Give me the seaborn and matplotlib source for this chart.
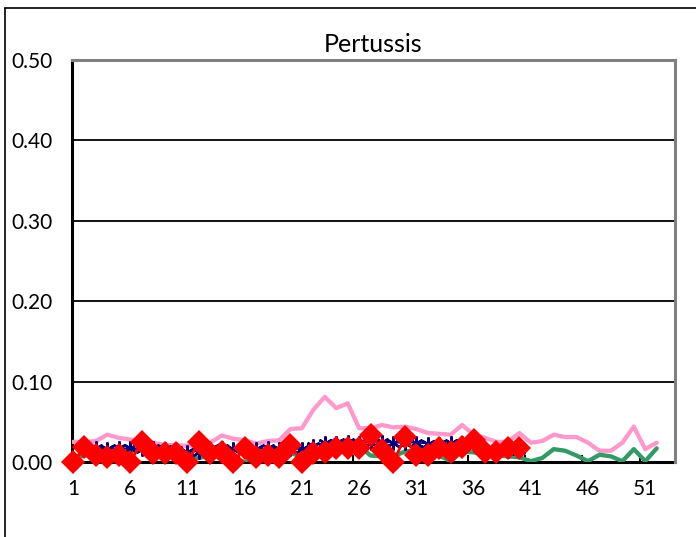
import matplotlib
matplotlib.use("Agg")
import matplotlib.pyplot as plt
from matplotlib.lines import Line2D
import seaborn as sns
import pandas as pd
import numpy as np

title = "Pertussis"
weeks_full = list(range(1, 53))
weeks_cur = list(range(1, 41))

pink_vals = [0.025, 0.025, 0.026, 0.034, 0.030, 0.028, 0.026, 0.024, 0.021, 0.021,
             0.020, 0.021, 0.024, 0.033, 0.029, 0.027, 0.023, 0.026, 0.027, 0.041,
             0.042, 0.065, 0.081, 0.067, 0.073, 0.042, 0.042, 0.046, 0.043, 0.044,
             0.041, 0.036, 0.035, 0.034, 0.046, 0.034, 0.030, 0.025, 0.025, 0.036,
             0.024, 0.026, 0.034, 0.031, 0.031, 0.024, 0.014, 0.014, 0.024, 0.044,
             0.016, 0.024]
green_vals = [0.005, 0.008, 0.010, 0.008, 0.003, 0.013, 0.017, 0.010, 0.008, 0.007,
              0.006, 0.005, 0.008, 0.010, 0.005, 0.000, 0.003, 0.006, 0.008, 0.011,
              0.007, 0.011, 0.019, 0.015, 0.020, 0.020, 0.008, 0.007, 0.007, 0.013,
              0.015, 0.019, 0.008, 0.001, 0.013, 0.012, 0.010, 0.008, 0.007, 0.006,
              0.001, 0.005, 0.016, 0.014, 0.008, 0.001, 0.009, 0.007, 0.001, 0.016,
              0.001, 0.017]
navy_vals = [0.000, 0.017, 0.017, 0.016, 0.017, 0.017, 0.016, 0.017, 0.016, 0.015,
             0.013, 0.013, 0.016, 0.017, 0.016, 0.017, 0.016, 0.017, 0.016, 0.016,
             0.016, 0.020, 0.024, 0.024, 0.025, 0.024, 0.024, 0.025, 0.024, 0.024,
             0.024, 0.023, 0.022, 0.024, 0.024, 0.023, 0.015, 0.015, 0.014, 0.015]
red_vals = [0.000, 0.019, 0.009, 0.0065, 0.009, 0.000, 0.025, 0.011, 0.011, 0.011,
            0.000, 0.025, 0.011, 0.012, 0.000, 0.017, 0.0065, 0.009, 0.0065, 0.021,
            0.000, 0.011, 0.013, 0.017, 0.017, 0.017, 0.034, 0.015, 0.000, 0.031,
            0.009, 0.009, 0.017, 0.013, 0.019, 0.027, 0.013, 0.013, 0.017, 0.017]

y_ticks = [0.0, 0.1, 0.2, 0.3, 0.4, 0.5]
x_ticks = [1, 6, 11, 16, 21, 26, 31, 36, 41, 46, 51]

sns.set_theme(style="white")
plt.rcParams['font.family'] = ['Lato', 'DejaVu Sans']

fig = plt.figure(figsize=(6.96, 5.37), dpi=100)
ax = fig.add_axes([72/696, 1-462/537, (675-72)/696, (462-60)/537])

df_full = pd.DataFrame({"week": weeks_full, "pink": pink_vals, "green": green_vals})
df_cur = pd.DataFrame({"week": weeks_cur, "navy": navy_vals, "red": red_vals})

for yv in y_ticks[1:-1]:
    ax.axhline(yv, color="black", lw=1.3, zorder=1)

sns.lineplot(data=df_full, x="week", y="pink", ax=ax, color="#FF99CC", lw=3.1, zorder=3)
sns.lineplot(data=df_full, x="week", y="green", ax=ax, color="#339966", lw=3.1, zorder=4)
sns.lineplot(data=df_cur, x="week", y="navy", ax=ax, color="#000080", lw=1.2,
             marker=(6, 2, 0), markersize=10, markeredgewidth=1.8,
             markeredgecolor="#000080", zorder=5, clip_on=False)
sns.lineplot(data=df_cur, x="week", y="red", ax=ax, color="#FF0000", lw=2.0,
             marker="D", markersize=12, markeredgewidth=0, zorder=6, clip_on=False)

ax.set_xlim(0.91, 53.6)
ax.set_ylim(0, 0.5)
ax.set_yticks(y_ticks)
ax.set_yticklabels([f"{v:.2f}" for v in y_ticks])
ax.set_xticks(x_ticks)
ax.set_xticklabels([str(v) for v in x_ticks])
ax.set_xticks([5.5 + 5*k for k in range(10)], minor=True)
ax.tick_params(axis="y", length=0, pad=14, labelsize=15, labelcolor="black")
ax.tick_params(axis="x", which="major", length=0, pad=12, labelsize=15, labelcolor="black")
ax.tick_params(axis="x", which="minor", direction="in", length=5, width=1.5, color="black", bottom=True)
ax.set_xlabel("")
ax.set_ylabel("")
ax.set_title(title, fontsize=18, pad=6, color="black")

for s in ["left", "bottom"]:
    ax.spines[s].set_color("black")
    ax.spines[s].set_linewidth(2.2)
for s in ["top", "right"]:
    ax.spines[s].set_color("#808080")
    ax.spines[s].set_linewidth(2.2)
ax.spines["bottom"].set_zorder(2)

fig.add_artist(Line2D([5/696, 5/696], [0, 1-8/537], color="black", lw=1.2, transform=fig.transFigure))
fig.add_artist(Line2D([5/696, 1], [1-8/537, 1-8/537], color="black", lw=1.2, transform=fig.transFigure))

fig.savefig("out.png", dpi=100)
